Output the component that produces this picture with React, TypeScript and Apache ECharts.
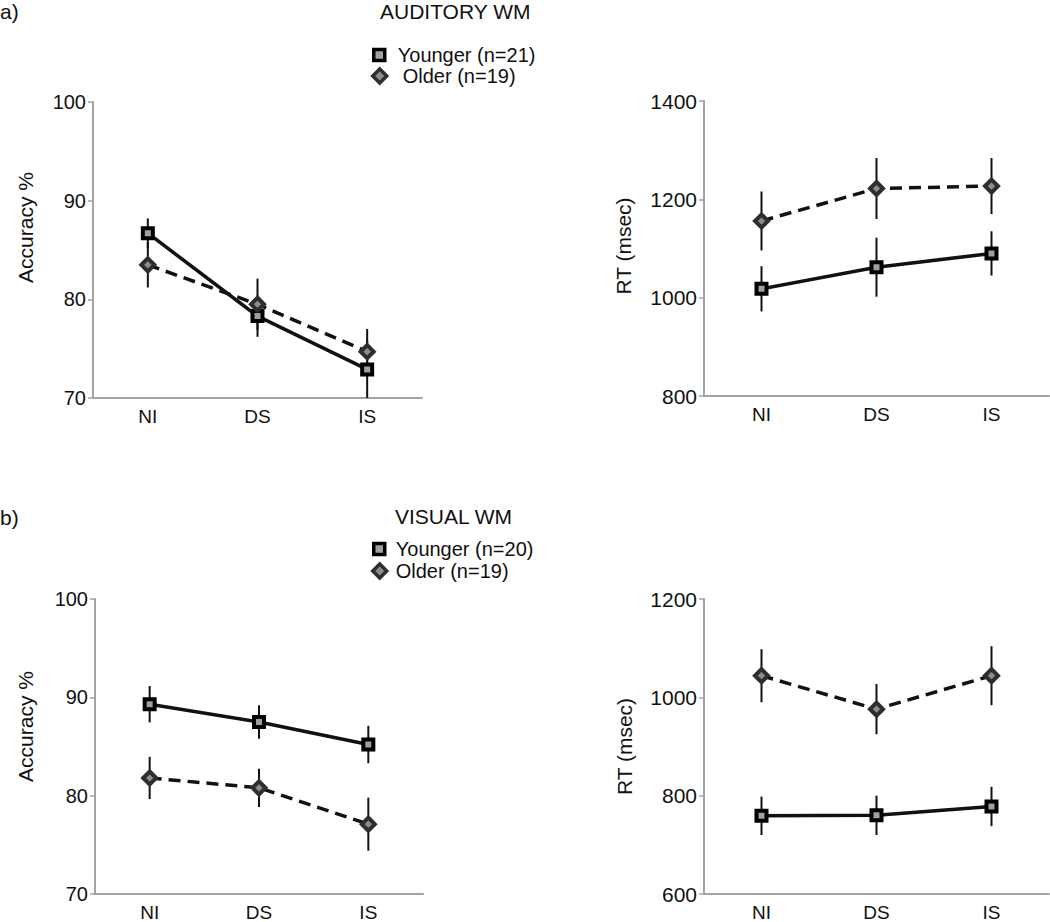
import React, { useEffect, useRef } from "react";
import * as echarts from "echarts";

const categories = ["NI", "DS", "IS"];

// a) Auditory WM
const audAccYounger = [86.7, 78.3, 72.9];
const audAccYoungerErr = [1.5, 2.1, 2.9];
const audAccOlder = [83.5, 79.5, 74.7];
const audAccOlderErr = [2.3, 2.6, 2.3];
const audRtYounger = [1018, 1062, 1090];
const audRtYoungerErr = [46, 60, 45];
const audRtOlder = [1156, 1222, 1227];
const audRtOlderErr = [60, 62, 57];

// b) Visual WM
const visAccYounger = [89.3, 87.5, 85.2];
const visAccYoungerErr = [1.85, 1.7, 1.9];
const visAccOlder = [81.8, 80.8, 77.1];
const visAccOlderErr = [2.15, 1.95, 2.7];
const visRtYounger = [759, 760, 778];
const visRtYoungerErr = [39, 40, 40];
const visRtOlder = [1044, 976, 1044];
const visRtOlderErr = [54, 51, 60];

const accTicks = { min: 70, max: 100, interval: 10 };
const audRtTicks = { min: 800, max: 1400, interval: 200 };
const visRtTicks = { min: 600, max: 1200, interval: 200 };

const youngerA = "Younger (n=21)";
const olderA = "Older (n=19)";
const youngerB = "Younger (n=20)";
const olderB = "Older (n=19)";

const FONT = '"Liberation Sans", Arial, Helvetica, sans-serif';
const AXIS_GRAY = "#a3a3a3";
const INK = "#111111";

const errRender = (params: any, api: any) => {
  const x = api.value(0);
  const lo = api.coord([x, api.value(1)]);
  const hi = api.coord([x, api.value(2)]);
  return {
    type: "line",
    shape: { x1: lo[0], y1: lo[1], x2: hi[0], y2: hi[1] },
    style: { stroke: INK, lineWidth: 2 },
  };
};

const errData = (m: number[], e: number[]) => m.map((v, i) => [i, v - e[i], v + e[i]]);

function panelSeries(idx: number, yName: string, yM: number[], yE: number[], oName: string, oM: number[], oE: number[]) {
  return [
    {
      type: "custom",
      name: yName + " SE",
      xAxisIndex: idx,
      yAxisIndex: idx,
      renderItem: errRender,
      encode: { x: 0, y: [1, 2] },
      data: errData(yM, yE),
      z: 2,
      silent: true,
    },
    {
      type: "custom",
      name: oName + " SE",
      xAxisIndex: idx,
      yAxisIndex: idx,
      renderItem: errRender,
      encode: { x: 0, y: [1, 2] },
      data: errData(oM, oE),
      z: 2,
      silent: true,
    },
    {
      type: "line",
      name: yName,
      xAxisIndex: idx,
      yAxisIndex: idx,
      data: yM,
      symbol: "rect",
      symbolSize: 10,
      showSymbol: true,
      lineStyle: { color: INK, width: 3.5 },
      itemStyle: { color: "#a0a0a0", borderColor: "#000", borderWidth: 4 },
      z: 3,
    },
    {
      type: "line",
      name: oName,
      xAxisIndex: idx,
      yAxisIndex: idx,
      data: oM,
      symbol: "diamond",
      symbolSize: 13,
      showSymbol: true,
      lineStyle: { color: INK, width: 3.5, type: [12, 7] },
      itemStyle: { color: "#8c8c8c", borderColor: "#2e2e2e", borderWidth: 4 },
      z: 4,
    },
  ];
}

function xAxis(gridIndex: number) {
  return {
    type: "category",
    gridIndex,
    data: categories,
    boundaryGap: true,
    axisLine: { show: true, lineStyle: { color: AXIS_GRAY, width: 2 } },
    axisTick: { show: false },
    axisLabel: { fontSize: 19, color: INK, fontFamily: FONT, margin: 9 },
    splitLine: { show: false },
  };
}

function yAxis(gridIndex: number, ticks: any, name: string, gap: number, shift: number, labelSize: number) {
  return {
    type: "value",
    gridIndex,
    min: ticks.min,
    max: ticks.max,
    interval: ticks.interval,
    name,
    nameLocation: "middle",
    nameRotate: 90,
    nameGap: gap,
    nameTextStyle: { fontSize: 21, color: INK, fontFamily: FONT, padding: [0, 0, 0, shift] },
    axisLine: { show: true, lineStyle: { color: AXIS_GRAY, width: 2 } },
    axisTick: { show: true, length: 5, lineStyle: { color: AXIS_GRAY, width: 1.5 } },
    axisLabel: {
      fontSize: labelSize,
      color: INK,
      fontFamily: FONT,
      margin: 7,
      formatter: (v: number) => String(v),
    },
    splitLine: { show: false },
  };
}

function legend(name: string, left: number, top: number, square: boolean, padLeft: number) {
  return {
    orient: "vertical",
    left,
    top,
    padding: 0,
    itemGap: 0,
    itemWidth: square ? 11 : 14,
    itemHeight: square ? 11 : 14,
    icon: square ? "rect" : "diamond",
    selectedMode: false,
    data: [name],
    itemStyle: square
      ? { color: "#a0a0a0", borderColor: "#000", borderWidth: 3.5 }
      : { color: "#8c8c8c", borderColor: "#2e2e2e", borderWidth: 3.5 },
    textStyle: { fontSize: 20, color: INK, fontFamily: FONT, padding: [0, 0, 0, padLeft] },
  };
}

function titleText(text: string, left: number, top: number) {
  return {
    text,
    left,
    top,
    padding: 0,
    textStyle: { fontSize: 21, fontWeight: "normal", color: INK, fontFamily: FONT },
  };
}

export default function App() {
  const ref = useRef<HTMLDivElement>(null);

  useEffect(() => {
    if (!ref.current) return;
    const chart = echarts.init(ref.current, undefined, { renderer: "svg" });
    const option: any = {
      animation: false,
      backgroundColor: "#ffffff",
      textStyle: { fontFamily: FONT },
      title: [
        titleText("a)", 0, 1),
        titleText("AUDITORY WM", 380, 1),
        titleText("b)", 0, 507),
        titleText("VISUAL WM", 395, 506),
      ],
      legend: [
        legend(youngerA, 372, 45, true, 8),
        legend(olderA, 371, 66, false, 11),
        legend(youngerB, 372, 539, true, 6),
        legend(olderB, 371, 561, false, 4),
      ],
      grid: [
        { left: 93, top: 102, width: 329, height: 296 },
        { left: 704, top: 101, width: 345, height: 295 },
        { left: 95, top: 599, width: 328, height: 296 },
        { left: 704, top: 599, width: 345, height: 296 },
      ],
      xAxis: [xAxis(0), xAxis(1), xAxis(2), xAxis(3)],
      yAxis: [
        yAxis(0, accTicks, "Accuracy %", 57, 45, 20),
        yAxis(1, audRtTicks, "RT (msec)", 70, 5, 21),
        yAxis(2, accTicks, "Accuracy %", 59, 40, 20),
        yAxis(3, visRtTicks, "RT (msec)", 69, 0, 21),
      ],
      series: [
        ...panelSeries(0, youngerA, audAccYounger, audAccYoungerErr, olderA, audAccOlder, audAccOlderErr),
        ...panelSeries(1, youngerA, audRtYounger, audRtYoungerErr, olderA, audRtOlder, audRtOlderErr),
        ...panelSeries(2, youngerB, visAccYounger, visAccYoungerErr, olderB, visAccOlder, visAccOlderErr),
        ...panelSeries(3, youngerB, visRtYounger, visRtYoungerErr, olderB, visRtOlder, visRtOlderErr),
      ],
    };
    chart.setOption(option);
    return () => chart.dispose();
  }, []);

  return (
    <div
      ref={ref}
      style={{ position: "absolute", left: 0, top: 0, width: 1050, height: 922, background: "#fff" }}
    />
  );
}
